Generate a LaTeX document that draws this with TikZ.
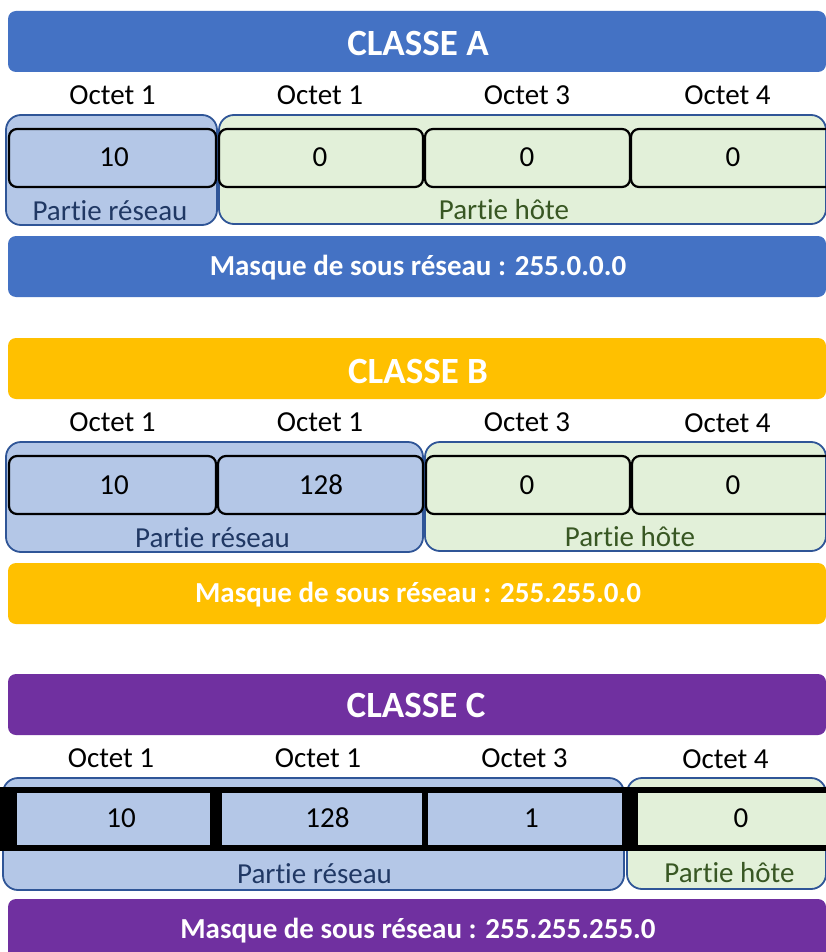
\documentclass[tikz,border=0pt]{standalone}
\usepackage{fontspec}
\setmainfont{Carlito}[Ligatures=NoCommon,RawFeature={-liga;-clig;-calt;-dlig}]
\definecolor{cA}{HTML}{4472C4}
\definecolor{cB}{HTML}{FFC000}
\definecolor{cC}{HTML}{7030A0}
\definecolor{netfill}{HTML}{B4C7E7}
\definecolor{hostfill}{HTML}{E2F0D9}
\definecolor{boxline}{HTML}{2F5597}
\definecolor{nettext}{HTML}{203864}
\definecolor{hosttext}{HTML}{385723}
\begin{document}
\begin{tikzpicture}[x=1pt,y=-1pt,
  bar/.style={rectangle, rounded corners=8pt, inner sep=0pt, draw=none, minimum height=61pt},
  part/.style={rectangle, rounded corners=15pt, draw=boxline, line width=1.8pt, inner sep=0pt},
  net/.style={part, fill=netfill},
  host/.style={part, fill=hostfill},
  cell/.style={rectangle, rounded corners=8pt, draw=black, line width=2.2pt, inner sep=0pt, minimum height=58pt},
  band/.style={rectangle, fill=black, inner sep=0pt},
  inner/.style={rectangle, fill=#1, inner sep=0pt, minimum height=52pt},
  title/.style={anchor=base, text=white, font=\bfseries\fontsize{37}{40}\selectfont, inner sep=0pt},
  mask/.style={anchor=base, text=white, font=\bfseries\fontsize{29}{32}\selectfont, inner sep=0pt},
  txt/.style={anchor=base, font=\fontsize{29}{32}\selectfont, inner sep=0pt},
  nettxt/.style={txt, text=nettext},
  hosttxt/.style={txt, text=hosttext}
]
\useasboundingbox (0,0) rectangle (826,952);
\clip (0,0) rectangle (826,952);
\fill[white] (0,0) rectangle (826,952);

% ================= CLASSE A =================
\node[bar, fill=cA, minimum width=818pt] (hA) at (417,41.5) {};
\node[title] (tA) at (418,56) {CLASSE A};
\node[txt] (oA1) at (112.5,105) {Octet 1};
\node[txt] (oA2) at (320,105) {Octet 1};
\node[txt] (oA3) at (527,105) {Octet 3};
\node[txt] (oA4) at (727.5,105) {Octet 4};
\node[net, minimum width=211pt, minimum height=110pt] (nA) at (111.5,170) {};
\node[host, minimum width=607pt, minimum height=109pt] (kA) at (522.5,169.5) {};
\node[cell, minimum width=207pt] (cA1) at (112.5,158) {};
\node[cell, minimum width=204pt] (cA2) at (321,158) {};
\node[cell, minimum width=205pt] (cA3) at (527.5,158) {};
\node[cell, minimum width=205pt] (cA4) at (733.5,158) {};
\node[txt] (vA1) at (114,167) {10};
\node[txt] (vA2) at (320,167) {0};
\node[txt] (vA3) at (527,167) {0};
\node[txt] (vA4) at (733,167) {0};
\node[nettxt] (lnA) at (110,220) {Partie réseau};
\node[hosttxt] (lhA) at (504,219) {Partie hôte};
\node[bar, fill=cA, minimum width=818pt] (mA) at (417,266.5) {};
\node[mask] (mtA) at (418,275) {Masque de sous réseau : 255.0.0.0};

% ================= CLASSE B =================
\node[bar, fill=cB, minimum width=818pt] (hB) at (417,368.5) {};
\node[title] (tB) at (418,383) {CLASSE B};
\node[txt] (oB1) at (112.5,431) {Octet 1};
\node[txt] (oB2) at (320,431) {Octet 1};
\node[txt] (oB3) at (527,431) {Octet 3};
\node[txt] (oB4) at (727.5,432) {Octet 4};
\node[net, minimum width=417pt, minimum height=110pt] (nB) at (214.5,497) {};
\node[host, minimum width=401pt, minimum height=109pt] (kB) at (625.5,496.5) {};
\node[cell, minimum width=207pt] (cB1) at (112.5,485) {};
\node[cell, minimum width=205pt] (cB2) at (320.5,485) {};
\node[cell, minimum width=204pt] (cB3) at (528,485) {};
\node[cell, minimum width=205pt] (cB4) at (734.5,485) {};
\node[txt] (vB1) at (114,494) {10};
\node[txt] (vB2) at (321,494) {128};
\node[txt] (vB3) at (527,494) {0};
\node[txt] (vB4) at (733,494) {0};
\node[nettxt] (lnB) at (212.5,547) {Partie réseau};
\node[hosttxt] (lhB) at (630,546) {Partie hôte};
\node[bar, fill=cB, minimum width=818pt] (mB) at (417,593.5) {};
\node[mask] (mtB) at (418,602) {Masque de sous réseau : 255.255.0.0};

% ================= CLASSE C =================
\node[bar, fill=cC, minimum width=818pt] (hC) at (417,704.5) {};
\node[title] (tC) at (416,717) {CLASSE C};
\node[txt] (oC1) at (111,767) {Octet 1};
\node[txt] (oC2) at (318,767) {Octet 1};
\node[txt] (oC3) at (524.5,767) {Octet 3};
\node[txt] (oC4) at (725.5,768) {Octet 4};
\node[net, minimum width=621pt, minimum height=112pt] (nC) at (313.5,834) {};
\node[host, minimum width=199pt, minimum height=111pt] (kC) at (726.5,833.5) {};
\node[band, minimum width=846pt, minimum height=64pt] (bC) at (418,819) {};
\node[inner=netfill, minimum width=193pt] (cC1) at (113.5,819) {};
\node[inner=netfill, minimum width=200pt] (cC2) at (322,819) {};
\node[inner=netfill, minimum width=194pt] (cC3) at (525,819) {};
\node[inner=hostfill, minimum width=202pt] (cC4) at (739,819) {};
\node[txt] (vC1) at (121,827) {10};
\node[txt] (vC2) at (327.5,827) {128};
\node[txt] (vC3) at (531.5,827) {1};
\node[txt] (vC4) at (741,827) {0};
\node[nettxt] (lnC) at (314.5,883) {Partie réseau};
\node[hosttxt] (lhC) at (729.5,882) {Partie hôte};
\node[bar, fill=cC, minimum width=818pt] (mC) at (417,929.5) {};
\node[mask] (mtC) at (418,938) {Masque de sous réseau : 255.255.255.0};
\end{tikzpicture}
\end{document}
